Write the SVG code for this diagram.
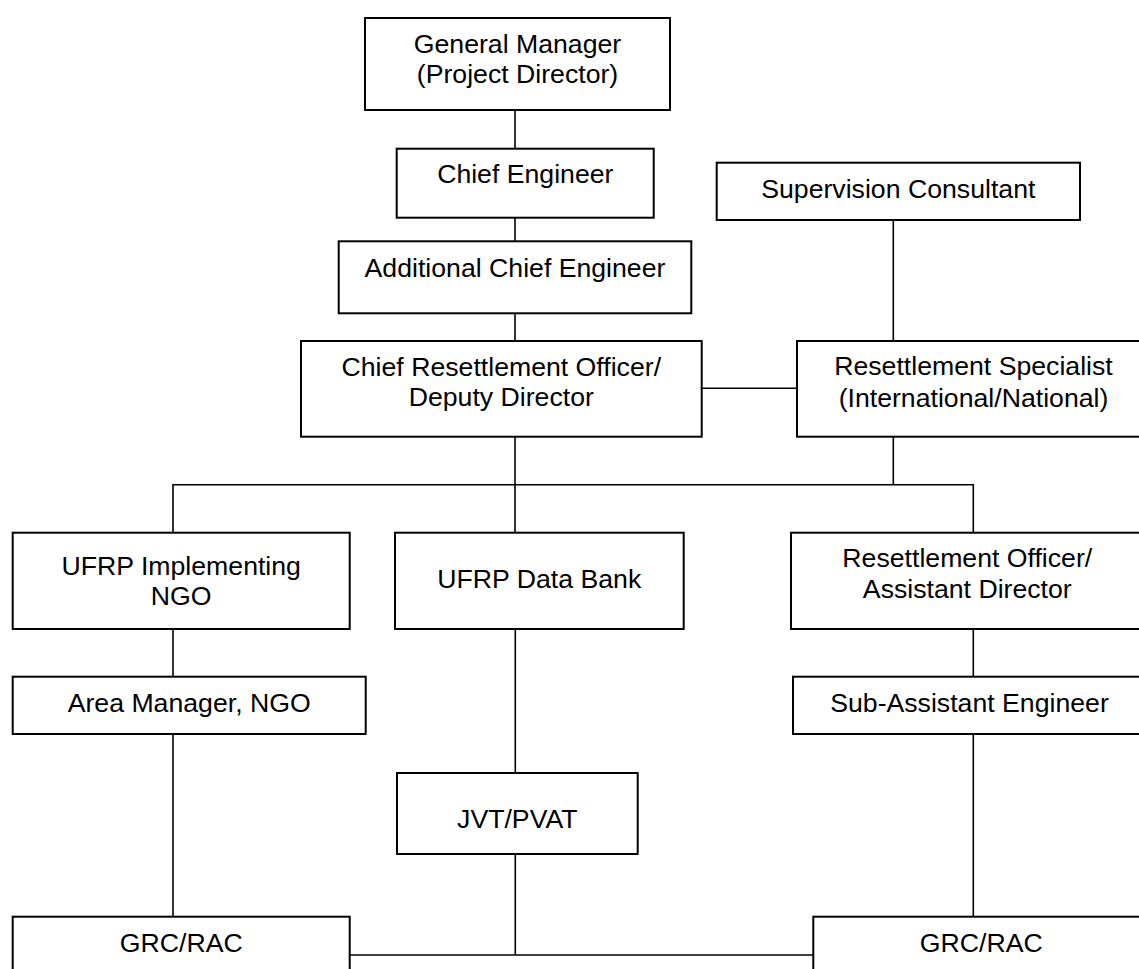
<svg xmlns="http://www.w3.org/2000/svg" width="1139" height="969" viewBox="0 0 1139 969">
<style>
.box{fill:#fff;stroke:#000;stroke-width:2}
.t{font-family:"Liberation Sans",Arial,sans-serif;font-size:26.67px;fill:#000;text-anchor:middle}
.c{fill:none;stroke:#000;stroke-width:1.6}
</style>
<rect width="1139" height="969" fill="#fff"/>
<g id="connectors">
<line class="c" x1="515" y1="110" x2="515" y2="149"/>
<line class="c" x1="515" y1="218" x2="515" y2="241"/>
<line class="c" x1="515" y1="313" x2="515" y2="341"/>
<line class="c" x1="893.3" y1="220" x2="893.3" y2="341"/>
<line class="c" x1="701.7" y1="388.3" x2="797" y2="388.3"/>
<line class="c" x1="515" y1="437" x2="515" y2="533"/>
<line class="c" x1="893.3" y1="437" x2="893.3" y2="484.7"/>
<polyline class="c" points="173,533 173,484.7 973.3,484.7 973.3,533"/>
<line class="c" x1="173" y1="629" x2="173" y2="677"/>
<line class="c" x1="173" y1="734" x2="173" y2="917"/>
<line class="c" x1="515.3" y1="629" x2="515.3" y2="773"/>
<line class="c" x1="515.3" y1="854" x2="515.3" y2="955"/>
<line class="c" x1="973.3" y1="629" x2="973.3" y2="677"/>
<line class="c" x1="973.3" y1="734" x2="973.3" y2="917"/>
<line class="c" x1="349.7" y1="955" x2="813.3" y2="955"/>
</g>
<g id="gm"><rect class="box" x="365" y="18" width="305" height="92"/>
<text class="t" x="517.5" y="52.7">General Manager</text>
<text class="t" x="517.5" y="82.7">(Project Director)</text></g>
<g id="ce"><rect class="box" x="396.7" y="148.7" width="257" height="69"/>
<text class="t" x="525.3" y="183.3">Chief Engineer</text></g>
<g id="ace"><rect class="box" x="338.7" y="241.3" width="352.6" height="72"/>
<text class="t" x="515" y="276.7">Additional Chief Engineer</text></g>
<g id="cro"><rect class="box" x="301" y="341" width="400.7" height="95.7"/>
<text class="t" x="501.3" y="375.7">Chief Resettlement Officer/</text>
<text class="t" x="501.3" y="406">Deputy Director</text></g>
<g id="sc"><rect class="box" x="716.7" y="162.7" width="363.3" height="57.3"/>
<text class="t" x="898.3" y="198">Supervision Consultant</text></g>
<g id="rs"><rect class="box" x="797" y="341" width="353" height="95.7"/>
<text class="t" x="973.5" y="375.3">Resettlement Specialist</text>
<text class="t" x="973.5" y="406.7">(International/National)</text></g>
<g id="ufrp-ngo"><rect class="box" x="12.7" y="532.7" width="337" height="96.3"/>
<text class="t" x="181.2" y="575">UFRP Implementing</text>
<text class="t" x="181.2" y="605">NGO</text></g>
<g id="databank"><rect class="box" x="395" y="532.7" width="288.7" height="96.3"/>
<text class="t" x="539.3" y="587.7">UFRP Data Bank</text></g>
<g id="ro"><rect class="box" x="791" y="532.7" width="353" height="96.3"/>
<text class="t" x="967.3" y="567.3">Resettlement Officer/</text>
<text class="t" x="967.3" y="598.3">Assistant Director</text></g>
<g id="am"><rect class="box" x="12.7" y="676.7" width="353" height="57.3"/>
<text class="t" x="189.2" y="712.3">Area Manager, NGO</text></g>
<g id="sae"><rect class="box" x="793" y="676.7" width="353" height="57.3"/>
<text class="t" x="969.5" y="712.3">Sub-Assistant Engineer</text></g>
<g id="jvt"><rect class="box" x="397" y="773" width="240.7" height="81"/>
<text class="t" x="517.3" y="827.7">JVT/PVAT</text></g>
<g id="grc-left"><rect class="box" x="12.7" y="916.7" width="337" height="70"/>
<text class="t" x="181.2" y="952.3">GRC/RAC</text></g>
<g id="grc-right"><rect class="box" x="813.3" y="916.7" width="336" height="70"/>
<text class="t" x="981.3" y="952.3">GRC/RAC</text></g>
</svg>
